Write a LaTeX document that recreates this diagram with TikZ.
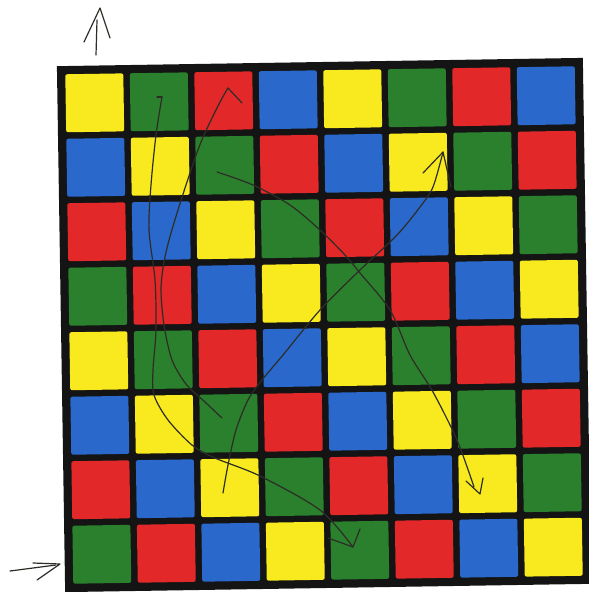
\documentclass[tikz,border=0pt]{standalone}
\begin{document}
\begin{tikzpicture}[x=1pt,y=-1pt,
  pen/.style={draw=penc,line width=1.2pt,line cap=round,line join=round},
  cellbox/.style={rounded corners=2pt}]
\definecolor{penc}{RGB}{45,45,40}
\definecolor{boardc}{RGB}{20,20,20}
\definecolor{cell0}{RGB}{248,234,30}
\definecolor{cell1}{RGB}{42,128,44}
\definecolor{cell2}{RGB}{226,40,40}
\definecolor{cell3}{RGB}{42,104,204}
\useasboundingbox (0,0) rectangle (589,592);
\fill[white] (0,0) rectangle (589,592);
\begin{scope}[rotate around={0.9:(324,325)}]
  \fill[boardc] (61,62) rectangle (587,588);
  \foreach \r in {0,...,7}{
    \foreach \c in {0,...,7}{
      \pgfmathtruncatemacro\k{mod(\c-\r+8,4)}
      \fill[cell\k,cellbox] ({69.25+64.5*\c},{70.25+64.5*\r}) rectangle ++(58,58);
    }
  }
\end{scope}
% outside arrows
\draw[pen] (96,55) -- (97,20);
\draw[pen] (84,42) -- (100,8) -- (110,38);
\draw[pen] (10,571) -- (56,565);
\draw[pen] (33,563) -- (60,564) -- (37,580);
% path A (up to top)
\draw[pen] plot[smooth] coordinates {(222,418) (205,402) (186,384) (172,360) (164,325) (161,290) (164,262) (171,233) (186,185) (201,142) (219,104) (228,88)};
\draw[pen] (228,88) -- (242,103);
% path B (down to bottom)
\draw[pen] (157,97) -- (162,97);
\draw[pen] plot[smooth] coordinates {(162,97) (156,135) (151,185) (149,230) (155,280) (156,330) (153,370) (154,395) (168,420) (192,445) (215,458) (260,476) (320,510) (353,547)};
\draw[pen] (328,538) -- (353,547) -- (360,529);
% path C (up to right)
\draw[pen] plot[smooth] coordinates {(223,493) (228,465) (236,430) (248,400) (262,380) (283,355) (320,310) (360,270) (397,235) (420,207) (433,187) (443,152)};
\draw[pen] (423,173) -- (443,152) -- (451,187);
% path D (down to right)
\draw[pen] plot[smooth] coordinates {(217,172) (253,185) (290,205) (320,230) (345,255) (360,273) (390,310) (410,355) (433,392) (457,440) (474,487)};
\draw[pen] (466,481) -- (480,494) -- (483,478);
\end{tikzpicture}
\end{document}
